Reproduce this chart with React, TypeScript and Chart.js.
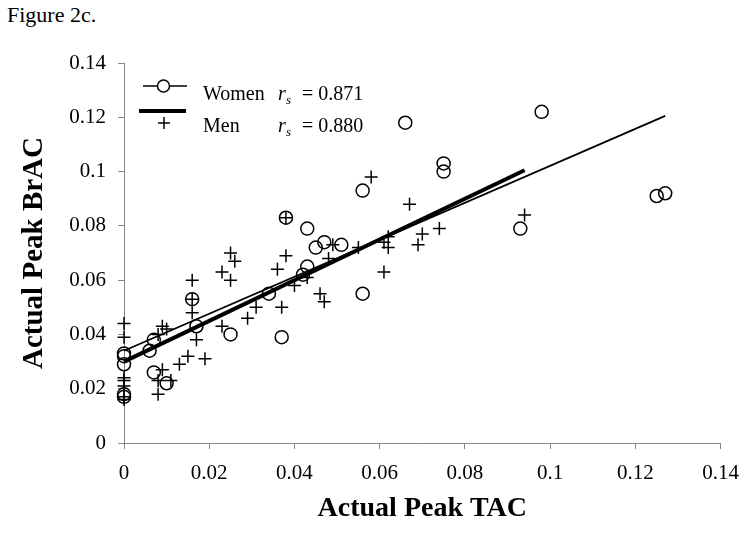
import React, { useEffect, useRef } from "react";
import { Chart, registerables } from "chart.js";

Chart.register(...registerables);

// ---- Data ----
const womenX = [0, 0, 0, 0, 0, 0.006, 0.007, 0.007, 0.01, 0.016, 0.017, 0.025, 0.034, 0.037, 0.038, 0.043, 0.042, 0.043, 0.045, 0.047, 0.051, 0.056, 0.056, 0.066, 0.075, 0.075, 0.093, 0.098, 0.125, 0.127];
const womenY = [0.033, 0.032, 0.029, 0.018, 0.017, 0.034, 0.038, 0.026, 0.022, 0.053, 0.043, 0.04, 0.055, 0.039, 0.083, 0.079, 0.062, 0.065, 0.072, 0.074, 0.073, 0.093, 0.055, 0.118, 0.103, 0.1, 0.079, 0.122, 0.091, 0.092];

const menX = [0, 0, 0, 0, 0, 0, 0, 0.008, 0.009, 0.01, 0.009, 0.008, 0.008, 0.011, 0.013, 0.015, 0.019, 0.017, 0.016, 0.016, 0.016, 0.023, 0.023, 0.025, 0.026, 0.025, 0.029, 0.031, 0.036, 0.038, 0.037, 0.04, 0.038, 0.043, 0.046, 0.047, 0.048, 0.049, 0.055, 0.058, 0.062, 0.061, 0.062, 0.061, 0.067, 0.069, 0.07, 0.074, 0.094];
const menY = [0.044, 0.039, 0.024, 0.023, 0.021, 0.017, 0.016, 0.04, 0.043, 0.042, 0.027, 0.023, 0.018, 0.023, 0.029, 0.032, 0.031, 0.038, 0.048, 0.053, 0.06, 0.043, 0.063, 0.07, 0.067, 0.06, 0.046, 0.05, 0.064, 0.069, 0.05, 0.058, 0.083, 0.061, 0.055, 0.052, 0.068, 0.073, 0.072, 0.098, 0.076, 0.074, 0.072, 0.063, 0.088, 0.073, 0.077, 0.079, 0.084];

const womenTrendX = [0, 0.127];
const womenTrendY = [0.034, 0.1205];
const menTrendX = [0, 0.094];
const menTrendY = [0.030, 0.1005];

const xTickLabels = ["0", "0.02", "0.04", "0.06", "0.08", "0.1", "0.12", "0.14"];
const yTickLabels = ["0", "0.02", "0.04", "0.06", "0.08", "0.1", "0.12", "0.14"];

const seriesNames = ["Women", "Men"];
const rsValues = ["0.871", "0.880"];

const FONT = '"Liberation Serif", "Times New Roman", serif';
const AXIS_GRAY = "#868686";

const toPoints = (xs: number[], ys: number[]) => xs.map((x, i) => ({ x, y: ys[i] }));

const legendPlugin = {
  id: "customLegend",
  afterDraw(chart: any) {
    const ctx = chart.ctx as CanvasRenderingContext2D;
    ctx.save();
    ctx.strokeStyle = "#000";
    ctx.fillStyle = "#000";
    // Women: thin line with circle
    ctx.lineWidth = 1.6;
    ctx.beginPath();
    ctx.moveTo(143, 86);
    ctx.lineTo(187, 86);
    ctx.stroke();
    ctx.beginPath();
    ctx.fillStyle = "#fff";
    ctx.arc(163.5, 86, 6, 0, Math.PI * 2);
    ctx.fill();
    ctx.lineWidth = 1.5;
    ctx.stroke();
    // Men: thick line, plus below
    ctx.lineWidth = 4;
    ctx.beginPath();
    ctx.moveTo(139, 111);
    ctx.lineTo(186, 111);
    ctx.stroke();
    ctx.lineWidth = 1.5;
    ctx.beginPath();
    ctx.moveTo(158, 123);
    ctx.lineTo(170, 123);
    ctx.moveTo(164, 117);
    ctx.lineTo(164, 129);
    ctx.stroke();

    ctx.fillStyle = "#000";
    ctx.textBaseline = "alphabetic";
    ctx.textAlign = "left";
    const rows = [100, 132];
    rows.forEach((base, i) => {
      ctx.font = `20px ${FONT}`;
      ctx.fillText(seriesNames[i], 203, base);
      ctx.font = `italic 20px ${FONT}`;
      ctx.fillText("r", 278, base);
      ctx.font = `italic 13px ${FONT}`;
      ctx.fillText("s", 286, base + 4);
      ctx.font = `20px ${FONT}`;
      ctx.fillText("= " + rsValues[i], 302, base);
    });
    ctx.restore();
  },
};

export default function App() {
  const canvasRef = useRef<HTMLCanvasElement | null>(null);

  useEffect(() => {
    if (!canvasRef.current) return;
    const chart = new Chart(canvasRef.current, {
      type: "scatter",
      data: {
        datasets: [
          {
            label: "Women",
            data: toPoints(womenX, womenY),
            pointStyle: "circle",
            pointRadius: 6.5,
            pointBorderWidth: 1.5,
            borderColor: "#000",
            backgroundColor: "rgba(0,0,0,0)",
            pointBackgroundColor: "rgba(0,0,0,0)",
            pointBorderColor: "#000",
            showLine: false,
            clip: false,
          } as any,
          {
            label: "Men",
            data: toPoints(menX, menY),
            pointStyle: "cross",
            pointRadius: 6.5,
            pointBorderWidth: 1.5,
            borderColor: "#000",
            pointBorderColor: "#000",
            backgroundColor: "#000",
            showLine: false,
            clip: false,
          } as any,
          {
            label: "Women trend",
            data: toPoints(womenTrendX, womenTrendY),
            showLine: true,
            borderColor: "#000",
            borderWidth: 1.8,
            pointRadius: 0,
            fill: false,
            clip: false,
          } as any,
          {
            label: "Men trend",
            data: toPoints(menTrendX, menTrendY),
            showLine: true,
            borderColor: "#000",
            borderWidth: 4,
            pointRadius: 0,
            fill: false,
            clip: false,
          } as any,
        ],
      },
      options: {
        animation: false,
        responsive: false,
        devicePixelRatio: 1,
        layout: { padding: { left: 0, top: 63, right: 26, bottom: 0 } },
        plugins: {
          legend: { display: false },
          tooltip: { enabled: false },
          title: { display: false },
        },
        scales: {
          x: {
            type: "linear",
            min: 0,
            max: 0.14,
            afterFit: (scale: any) => {
              scale.height = 103;
            },
            ticks: {
              stepSize: 0.02,
              autoSkip: false,
              maxRotation: 0,
              padding: 12,
              color: "#000",
              font: { family: FONT, size: 21 },
              callback: (_v: any, i: number) => xTickLabels[i],
            },
            grid: {
              display: true,
              drawOnChartArea: false,
              drawTicks: true,
              tickLength: 6,
              color: AXIS_GRAY,
            },
            border: { display: true, color: AXIS_GRAY, width: 1 },
            title: {
              display: true,
              text: "Actual Peak TAC",
              color: "#000",
              font: { family: FONT, size: 28, weight: "bold" },
              padding: { top: 0, bottom: 20 },
            },
          },
          y: {
            type: "linear",
            min: 0,
            max: 0.14,
            afterFit: (scale: any) => {
              scale.width = 124;
            },
            ticks: {
              stepSize: 0.02,
              autoSkip: false,
              padding: 12,
              color: "#000",
              font: { family: FONT, size: 21 },
              callback: (_v: any, i: number) => yTickLabels[i],
            },
            grid: {
              display: true,
              drawOnChartArea: false,
              drawTicks: true,
              tickLength: 6,
              color: AXIS_GRAY,
            },
            border: { display: true, color: AXIS_GRAY, width: 1 },
            title: {
              display: true,
              text: "Actual Peak BrAC",
              color: "#000",
              font: { family: FONT, size: 29, weight: "bold" },
              padding: { top: 17, bottom: 0 },
            },
          },
        },
      } as any,
      plugins: [legendPlugin],
    });
    return () => chart.destroy();
  }, []);

  return (
    <div style={{ position: "absolute", left: 0, top: 0, width: 751, height: 546, background: "#fff" }}>
      <div
        style={{
          position: "absolute",
          left: 7,
          top: 2,
          fontFamily: FONT,
          fontSize: 22,
          color: "#000",
          whiteSpace: "nowrap",
        }}
      >
        Figure 2c.
      </div>
      <canvas
        ref={canvasRef}
        width={751}
        height={546}
        style={{ position: "absolute", left: 0, top: 0, width: 751, height: 546 }}
      />
    </div>
  );
}
